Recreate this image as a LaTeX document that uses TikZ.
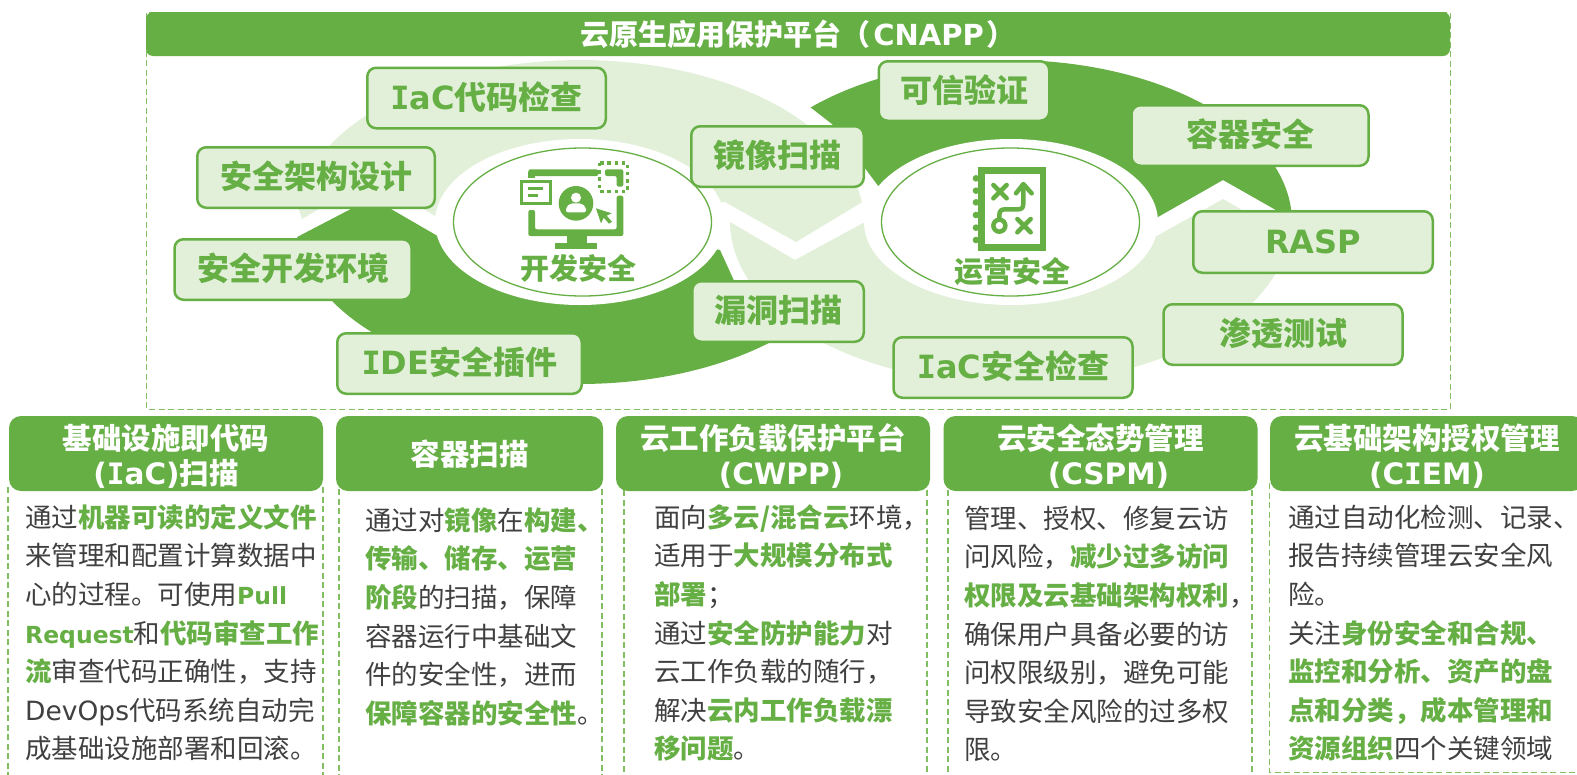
\documentclass[tikz,border=0pt]{standalone}
\usepackage{fontspec}
\setmainfont{Noto Sans CJK SC}
\newfontfamily\latf{DejaVu Sans}
\newfontfamily\monf{DejaVu Sans Mono}
\definecolor{gdark}{HTML}{66AF45}
\definecolor{glight}{HTML}{E2F0D9}
\definecolor{gdash}{HTML}{82BF63}
\definecolor{bodytx}{HTML}{404040}
\newcommand{\gtx}[1]{{\bfseries\color{gdark}#1}}
\newcommand{\ibar}{{\monf I}}
\newcommand{\fstrut}{\rule{0pt}{25pt}}
\newcommand{\bx}[1]{\raisebox{0pt}[26pt][4pt]{#1}}
\newcommand{\hstrut}{\rule{0pt}{30pt}}
\tikzset{
  greenbox/.style={draw=gdark,fill=glight,line width=2.5pt,rounded corners=9pt,inner sep=0pt,
    minimum height=60.5pt,text=gdark,font=\fontsize{32}{36}\selectfont\bfseries},
  headbox/.style={fill=gdark,rounded corners=12pt,inner sep=0pt,minimum height=75pt,minimum width=314pt,
    text=white,align=center,font=\fontsize{29.5}{35}\selectfont\bfseries},
  bodytext/.style={inner sep=0pt,anchor=north west,align=left,text=bodytx,
    font=\fontsize{26.5}{38.6}\selectfont},
  ring/.style={fill=white,ellipse,inner sep=0pt},
  core/.style={draw=gdark,fill=white,ellipse,line width=1.3pt,inner sep=0pt,minimum width=258pt,minimum height=148pt},
  lab/.style={text=gdark,inner sep=0pt,font=\fontsize{29}{32}\selectfont\bfseries},
  dashframe/.style={draw=gdash,line width=1.3pt,dash pattern=on 6pt off 3.5pt},
  iconline/.style={draw=gdark,line cap=round,line join=round},
}
\usetikzlibrary{shapes.geometric}
\begin{document}
\begin{tikzpicture}[x=1pt,y=-1pt]
\path[use as bounding box,clip] (0,0) rectangle (1577,774);
\fill[white] (0,0) rectangle (1577,774);
% outer frame
\draw[dashframe,line width=1pt] (146.5,12.5) rectangle (1450,409);
% column frames
\draw[dashframe] (8,487) -- (8,790);
\draw[dashframe] (323,487) -- (323,790);
\draw[dashframe] (339,489) -- (339,790);
\draw[dashframe] (602,489) -- (602,790);
\draw[dashframe] (624,490) -- (624,790);
\draw[dashframe] (927,490) -- (927,790);
\draw[dashframe] (948,490) -- (948,790);
\draw[dashframe] (1252,490) -- (1252,790);
\draw[dashframe,line width=1pt] (1269,483) -- (1269,772) -- (1590,772);
% swoosh shapes
\fill[glight] (302,219) -- plot[domain=186:353,samples=70] ({580+284*cos(\x)},{222+162*sin(\x)})
  -- (796,242) -- (725,202) -- (580,222) -- (437,217) -- (372,178) -- cycle;
\fill[glight] plot[domain=180:5.3,samples=70] ({1010+280*cos(\x)},{222+162*sin(\x)})
  -- (1223,199) -- (1155,237) -- (1010,222) -- (865,222) -- (795,260) -- cycle;
\fill[gdark] plot[domain=174.7:45,samples=70] ({580+284*cos(\x)},{222+162*sin(\x)})
  -- (752,320) -- (720,250) -- (580,222) -- (441,238) -- (372,198) -- cycle;
\fill[gdark] plot[domain=225:359,samples=70] ({1010+282*cos(\x)},{222+162*sin(\x)})
  -- (1223,180) -- (1158,217) -- (1010,222) -- (879,187) -- (832,124) -- cycle;
% white rings and cores
\node[ring,minimum width=290pt,minimum height=166pt] (ringL) at (580,222) {};
\node[ring,minimum width=294pt,minimum height=166pt] (ringR) at (1011,222) {};
\node[core] (coreL) at (582.5,222) {};
\node[core] (coreR) at (1010.5,222) {};
% monitor icon
\begin{scope}[shift={(490,150)},scale=1/3]
  \fill[gdark,rounded corners=2pt] (115,58) rectangle (325,78);
  \fill[gdark] (115,66) rectangle (135,84);
  \fill[gdark,rounded corners=2pt] (115,180) -- (115,258) -- (400,258) -- (400,137) -- (380,137) -- (380,238) -- (135,238) -- (135,180) -- cycle;
  \fill[gdark,rounded corners=2pt] (345,58) -- (400,58) -- (400,110) -- (380,110) -- (380,78) -- (345,78) -- cycle;
  \fill[gdark] (230,258) rectangle (290,282);
  \fill[gdark] (195,280) rectangle (320,298);
  \draw[gdark,line width=3.4pt,fill=white] (95,95) rectangle (182,160);
  \fill[gdark] (114,111) rectangle (158,121);
  \fill[gdark] (114,132) rectangle (144,142);
  \fill[gdark] (258,160) circle (52);
  \fill[white] (258,143) circle (15);
  \fill[white,rounded corners=2pt] (228,187) -- (228,172) -- (242,160) -- (274,160) -- (288,172) -- (288,187) -- cycle;
  \fill[gdark] (318,175) -- (365,190) -- (350,197) -- (366,215) -- (357,221) -- (341,203) -- (333,220) -- cycle;
  \draw[gdark,line width=3.4pt,dash pattern=on 3.4pt off 3.8pt] (329,39) rectangle (412,124);
\end{scope}
% book icon
\begin{scope}[shift={(950,160)},scale=1/3]
  \draw[gdark,line width=6.6pt,fill=white] (95,32) rectangle (279,262);
  \foreach \cy in {55,92,127,165,203,240} {\fill[gdark] (78,\cy) circle (10);}
  \draw[iconline,line width=4.5pt] (130,75) -- (170,115) (170,75) -- (130,115);
  \draw[iconline,line width=4.5pt] (202,177) -- (242,217) (242,177) -- (202,217);
  \draw[iconline,line width=4.5pt] (148,197) circle (18);
  \draw[iconline,line width=4.5pt] (148,179) -- (148,165) .. controls (148,152) and (155,148) .. (165,148) -- (205,148) .. controls (216,148) and (220,142) .. (220,130) -- (220,75);
  \draw[iconline,line width=4.5pt] (198,100) -- (220,72) -- (245,100);
\end{scope}
\node[lab] (labL) at (578,268) {开发安全};
\node[lab] (labR) at (1012,272) {运营安全};
% feature boxes
\node[greenbox,minimum width=238.5pt] (b1) at (486.5,98) {\bx{\ibar{\latf aC}代码检查}};
\node[greenbox,minimum width=237.5pt] (b2) at (316,177.5) {\bx{安全架构设计}};
\node[greenbox,minimum width=237pt] (b3) at (293,269.5) {\bx{安全开发环境}};
\node[greenbox,minimum width=244.5pt] (b4) at (459.5,363.5) {\bx{\ibar{\latf DE}安全插件}};
\node[greenbox,minimum width=172.5pt] (b5) at (777.5,156.5) {\bx{镜像扫描}};
\node[greenbox,minimum width=171.5pt] (b6) at (778,311.5) {\bx{漏洞扫描}};
\node[greenbox,minimum width=170.5pt,minimum height=59.5pt] (b7) at (964,91) {\bx{可信验证}};
\node[greenbox,minimum width=237pt] (b8) at (1250,135.5) {\bx{容器安全}};
\node[greenbox,minimum width=239.5pt,minimum height=61.5pt] (b9) at (1313,242) {\bx{\latf RASP}};
\node[greenbox,minimum width=239pt] (b10) at (1283,334.5) {\bx{渗透测试}};
\node[greenbox,minimum width=239pt] (b11) at (1013,367.5) {\bx{\ibar{\latf aC}安全检查}};
% title
\node[fill=gdark,rounded corners=7pt,inner sep=0pt,minimum width=1304pt,minimum height=44pt,
  text=white,font=\fontsize{29}{32}\selectfont\bfseries] (title) at (798,34) {云原生应用保护平台（\hspace{3pt}{\latf CNAPP}\hspace{3pt}）};
% column headers
\node[headbox] (h1) at (166,453.5) {\hstrut 基础设施即代码\\{\latf(}\ibar{\latf aC)}扫描};
\node[headbox,minimum width=267pt] (h2) at (469.5,453.5) {\raisebox{0pt}[27pt][4pt]{容器扫描}};
\node[headbox] (h3) at (773,453.5) {\hstrut 云工作负载保护平台\\\hspace*{16pt}{\latf(CWPP)}};
\node[headbox] (h4) at (1100.5,453.5) {\hstrut 云安全态势管理\\\hspace*{16pt}{\latf(CSPM)}};
\node[headbox] (h5) at (1427,453.5) {\hstrut 云基础架构授权管理\\{\latf(C}\ibar{\latf EM)}};
% column bodies
\node[bodytext] (t1) at (25,502) {\fstrut 通过\gtx{机器可读的定义文件}\\
来管理和配置计算数据中\\
心的过程。可使用\gtx{\fontsize{23.5}{38.6}\selectfont\latf Pull}\\
\gtx{\fontsize{23.5}{38.6}\selectfont\latf Request}和\gtx{代码审查工作}\\
\gtx{流}审查代码正确性，支持\\
{\latf DevOps}代码系统自动完\\
成基础设施部署和回滚。};
\node[bodytext] (t2) at (365,505) {\fstrut 通过对\gtx{镜像}在\gtx{构建、}\\
\gtx{传输、储存、运营}\\
\gtx{阶段}的扫描，保障\\
容器运行中基础文\\
件的安全性，进而\\
\gtx{保障容器的安全性}。};
\node[bodytext] (t3) at (654,502) {\fstrut 面向\gtx{多云/混合云}环境，\\
适用于\gtx{大规模分布式}\\
\gtx{部署}；\\
通过\gtx{安全防护能力}对\\
云工作负载的随行，\\
解决\gtx{云内工作负载漂}\\
\gtx{移问题}。};
\node[bodytext] (t4) at (964,503) {\fstrut 管理、授权、修复云访\\
问风险，\gtx{减少过多访问}\\
\gtx{权限及云基础架构权利}，\\
确保用户具备必要的访\\
问权限级别，避免可能\\
导致安全风险的过多权\\
限。};
\node[bodytext] (t5) at (1288,502) {\fstrut 通过自动化检测、记录、\\
报告持续管理云安全风\\
险。\\
关注\gtx{身份安全和合规、}\\
\gtx{监控和分析、资产的盘}\\
\gtx{点和分类，成本管理和}\\
\gtx{资源组织}四个关键领域};
\end{tikzpicture}
\end{document}
